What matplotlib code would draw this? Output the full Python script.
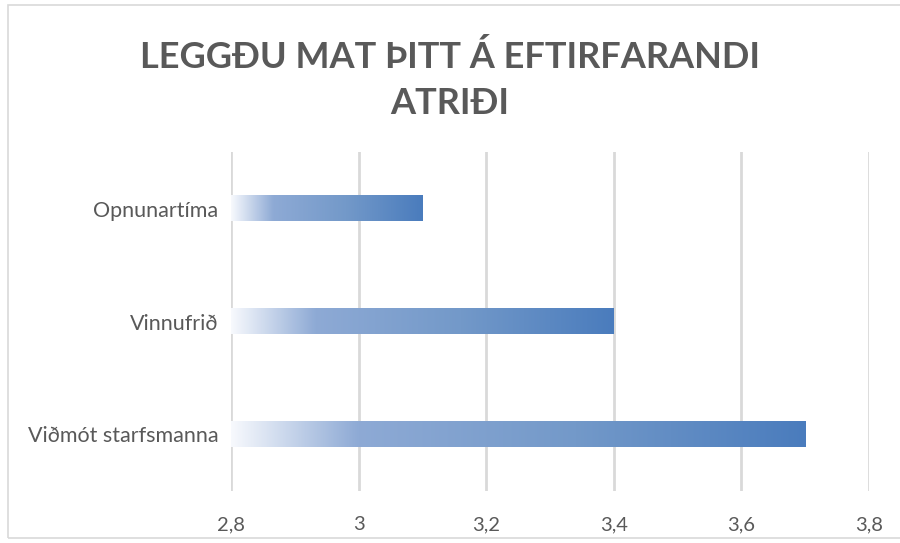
import numpy as np
import matplotlib.pyplot as plt
from matplotlib.colors import LinearSegmentedColormap
from matplotlib.patches import Rectangle

plt.rcParams['font.family'] = ['Lato', 'DejaVu Sans']

categories = ['Viðmót starfsmanna', 'Vinnufrið', 'Opnunartíma']
values = [3.7, 3.4, 3.1]
xticks = [2.8, 3.0, 3.2, 3.4, 3.6, 3.8]
xticklabels = ['2,8', '3', '3,2', '3,4', '3,6', '3,8']
title = 'LEGGÐU MAT ÞITT Á EFTIRFARANDI\nATRIÐI'

grad = LinearSegmentedColormap.from_list(
    'bluegrad', [(0.0, '#f7f9fd'), (0.22, '#8eaad5'), (0.6, '#7399c9'), (1.0, '#4a7cbd')])

fig = plt.figure(figsize=(9, 5.43), dpi=100)
ax = fig.add_axes([231 / 900, 1 - 491 / 543, 638 / 900, 339 / 543])

x0 = 2.8
bars = ax.barh(categories, [v - x0 for v in values], left=x0, height=0.23,
               color='none', edgecolor='none', zorder=3)
ramp = np.linspace(0, 1, 256).reshape(1, -1)
for b in bars:
    x, y, w, h = b.get_x(), b.get_y(), b.get_width(), b.get_height()
    ax.imshow(ramp, cmap=grad, aspect='auto', extent=[x, x + w, y, y + h],
              zorder=3, interpolation='bilinear')

ax.set_xlim(2.8, 3.8)
ax.set_ylim(-0.5, 2.5)
ax.set_xticks(xticks)
ax.set_xticklabels(xticklabels)
ax.grid(axis='x', color='#d9d9d9', linewidth=2, zorder=0)
ax.set_axisbelow(True)
for s in ax.spines.values():
    s.set_visible(False)
ax.tick_params(axis='y', length=0, labelsize=15.5, colors='#595959', pad=9)
ax.tick_params(axis='x', length=0, labelsize=14.5, colors='#595959', pad=18)

fig.text(0.5, 1 - 80 / 543, title, ha='center', va='center', fontsize=26,
         fontweight='bold', color='#595959', linespacing=1.45)

fig.patches.append(Rectangle((8 / 900, 0.01), 0.995, 0.98, transform=fig.transFigure,
                             fill=False, edgecolor='#d9d9d9', linewidth=1.2))

fig.savefig('out.png', dpi=100)
